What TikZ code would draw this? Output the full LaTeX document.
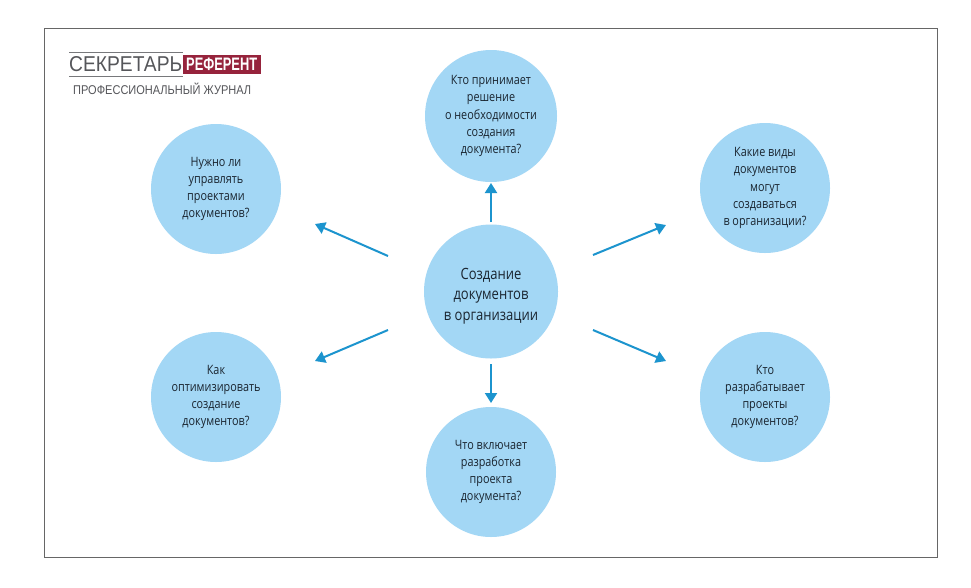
\documentclass[tikz,border=0pt]{standalone}
\usepackage{fontspec}
\setmainfont{Open Sans}[FakeStretch=0.84]
\newfontfamily\logofont{Liberation Sans}
\definecolor{circ}{HTML}{A3D7F5}
\definecolor{arr}{HTML}{1C94CE}
\definecolor{txt}{HTML}{1A2530}
\definecolor{logored}{HTML}{96233C}
\definecolor{logogray}{HTML}{55565A}
\usetikzlibrary{arrows.meta}
\tikzset{
  bub/.style={circle,fill=circ,minimum size=130pt,inner sep=0pt,align=center,text=txt,font=\fontsize{12.9}{17.2}\selectfont},
  con/.style={draw=arr,line width=2pt,-{Triangle[length=10pt,width=12pt]}},
  logoline/.style={draw=logogray!80,line width=1pt}
}
\begin{document}
\begin{tikzpicture}[x=1pt,y=-1pt]
\useasboundingbox (0,0) rectangle (971,587);
\fill[white] (0,0) rectangle (971,587);
\draw[draw=black!60,line width=0.7pt] (44,28) rectangle (937,557);
\node[bub,minimum size=134pt,font=\fontsize{15.5}{20.5}\selectfont] (c) at (491,291.5) {\rule{0pt}{20pt}Создание\\документов\\в организации};
\node[bub,minimum size=132pt] (t) at (491,116) {Кто принимает\\решение\\о необходимости\\создания\\документа?};
\node[bub] (lt) at (216,189) {Нужно ли\\управлять\\проектами\\документов?};
\node[bub] (rt) at (765,188) {Какие виды\\документов\\могут\\создаваться\\в организации?};
\node[bub] (lb) at (216,397) {Как\\оптимизировать\\создание\\документов?};
\node[bub] (rb) at (765,397) {Кто\\разрабатывает\\проекты\\документов?};
\node[bub] (b) at (491,472) {Что включает\\разработка\\проекта\\документа?};
\coordinate (a1s) at (491,222); \coordinate (a1e) at (491,183);
\coordinate (a2s) at (593,255); \coordinate (a2e) at (666,225);
\coordinate (a3s) at (593,330); \coordinate (a3e) at (666,361);
\coordinate (a4s) at (388,256); \coordinate (a4e) at (315,224);
\coordinate (a5s) at (388,330); \coordinate (a5e) at (315,361);
\coordinate (a6s) at (491,364); \coordinate (a6e) at (491,403);
\draw[con] (a1s) -- (a1e);
\draw[con] (a2s) -- (a2e);
\draw[con] (a3s) -- (a3e);
\draw[con] (a4s) -- (a4e);
\draw[con] (a5s) -- (a5e);
\draw[con] (a6s) -- (a6e);
% logo
\coordinate (l1a) at (69,52); \coordinate (l1b) at (183,52);
\coordinate (l2a) at (69,76); \coordinate (l2b) at (183,76);
\draw[logoline] (l1a) -- (l1b);
\draw[logoline] (l2a) -- (l2b);
\node[anchor=west,inner sep=0pt,text=logogray] (lg1) at (69,64.5) {\resizebox{113pt}{15pt}{\logofont СЕКРЕТАРЬ}};
\node[anchor=west,fill=logored,minimum width=78pt,minimum height=19.5pt,inner sep=0pt,text=white] (lg2) at (182.5,64.5) {\hbox to 78pt{\hss\resizebox{71pt}{12.5pt}{\logofont\bfseries РЕФЕРЕНТ}\hss}};
\node[anchor=west,inner sep=0pt,text=logogray] (lg3) at (73,89) {\resizebox{178pt}{11.5pt}{\logofont ПРОФЕССИОНАЛЬНЫЙ ЖУРНАЛ}};
\end{tikzpicture}
\end{document}
